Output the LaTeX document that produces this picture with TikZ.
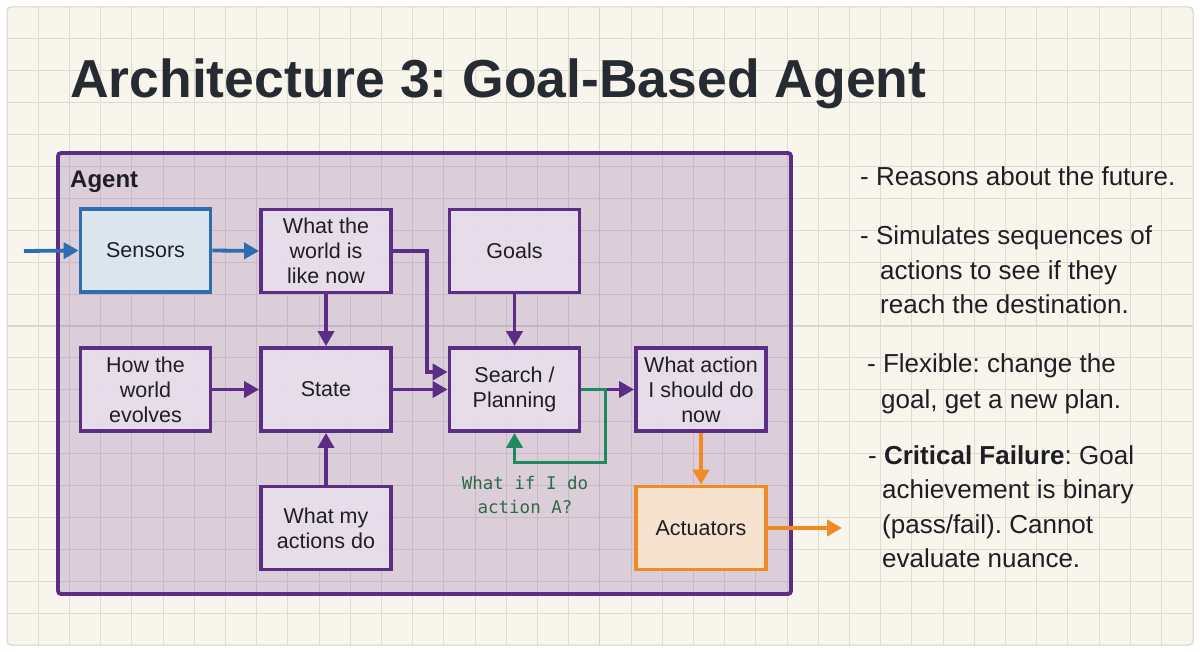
\documentclass[tikz,border=0pt]{standalone}
\usepackage{fontspec}
\setmainfont{Liberation Sans}
\newfontfamily\codefont{DejaVu Sans Mono}
\usetikzlibrary{arrows.meta}
\frenchspacing

\definecolor{bgc}{HTML}{F7F5EC}
\definecolor{gridc}{HTML}{DEDBD3}
\definecolor{gridd}{HTML}{D6D3CB}
\definecolor{framec}{HTML}{D6D3CB}
\definecolor{pur}{HTML}{5B2D84}
\definecolor{agentc}{HTML}{6E3591}
\definecolor{boxfill}{HTML}{E8DFEE}
\definecolor{blu}{HTML}{2E6DAF}
\definecolor{blufill}{HTML}{DDEBF4}
\definecolor{org}{HTML}{F08A24}
\definecolor{orgfill}{HTML}{FDE6CE}
\definecolor{grn}{HTML}{1F8A5F}
\definecolor{grntxt}{HTML}{2D6A48}
\definecolor{txt}{HTML}{1E1E24}
\definecolor{titlec}{HTML}{262B31}

\tikzset{
  box/.style={draw=pur, line width=3.8pt, fill=boxfill, fill opacity=0.85, text opacity=1,
    minimum width=130pt, minimum height=83pt, align=center, text=txt,
    font=\fontsize{21.5}{25}\selectfont, inner sep=2pt},
  sbox/.style={box, draw=blu, fill=blufill},
  abox/.style={box, draw=org, fill=orgfill},
  conn/.style={line width=3.8pt, -{Triangle[length=15pt,width=16pt]}},
  parr/.style={conn, draw=pur},
  barr/.style={conn, draw=blu},
  oarr/.style={conn, draw=org},
  garr/.style={conn, draw=grn},
  side/.style={anchor=base west, text=txt, font=\fontsize{26}{30}\selectfont, inner sep=0pt},
}

\begin{document}
\begin{tikzpicture}[x=1pt,y=-1pt]
\useasboundingbox (0,0) rectangle (1200,652);
\fill[white] (0,0) rectangle (1200,652);
\fill[bgc] [rounded corners=4pt] (7,7) rectangle (1193,645);
\begin{scope}
  \clip[rounded corners=4pt] (7,7) rectangle (1193,645);
  \foreach \i in {1,...,37} \draw[gridc, line width=0.9pt] ({7+31.2*\i},7) -- ({7+31.2*\i},645);
  \foreach \j in {1,...,19} \draw[gridc, line width=0.9pt] (7,{7+31.9*\j}) -- (1193,{7+31.9*\j});
  \draw[gridd, line width=1pt] ({7+31.2*19},7) -- ({7+31.2*19},645);
  \draw[gridd, line width=1pt] (7,{7+31.9*10}) -- (1193,{7+31.9*10});
\end{scope}
\draw[framec, line width=1pt, rounded corners=4pt] (7,7) rectangle (1193,645);

% title
\node[anchor=base west, inner sep=0pt, text=titlec, font=\bfseries\fontsize{53.5}{60}\selectfont] (title) at (70,98) {Architecture 3: Goal-Based Agent};

% agent region
\draw[draw=pur, line width=3.8pt, fill=agentc, fill opacity=0.2, rounded corners=3pt] (58,153) rectangle (791,594);
\node[anchor=base west, inner sep=0pt, text=txt, font=\bfseries\fontsize{24}{28}\selectfont] (agent) at (70,188) {Agent};

% boxes
\node[sbox] (sensors) at (145.5,250.5) {Sensors};
\node[box] (world) at (326,251) {What the\\world is\\like now};
\node[box] (goals) at (514.5,251) {Goals};
\node[box] (how) at (145.5,389.5) {How the\\world\\evolves};
\node[box] (state) at (326,389.5) {State};
\node[box] (search) at (514.5,389.5) {Search /\\Planning};
\node[box] (action) at (701,389.5) {What action\\I should do\\now};
\node[box] (myact) at (326,528) {What my\\actions do};
\node[abox] (act) at (701,528) {Actuators};

\coordinate (in) at (24,251);
\coordinate (out) at (842,528);

% connectors
\draw[barr] (in) -- (sensors.west);
\draw[barr] (sensors.east) -- (world.west);
\draw[parr] (world.south) -- (state.north);
\draw[parr] (world.east) -- ++(34,0) |- ([yshift=17.5pt]search.west);
\draw[parr] (state.east) -- (search.west);
\draw[parr] (how.east) -- (state.west);
\draw[parr] (goals.south) -- (search.north);
\draw[parr] (myact.north) -- (state.south);
\draw[parr] (search.east) -- (action.west);
\draw[garr] (search.east) -- ++(24,0) -- ++(0,73) -| (search.south);
\draw[oarr] (action.south) -- (act.north);
\draw[oarr] (act.east) -- (out);

\node[align=center, text=grntxt, font=\codefont\fontsize{17.5}{24}\selectfont] (whatif) at (525,495) {What if I do\\action A?};

% side notes
\node[side] (n1) at (860,186) {- Reasons about the future.};
\node[side] (n2) at (860,245) {- Simulates sequences of};
\node[side] (n2b) at (880,280) {actions to see if they};
\node[side] (n2c) at (880,314) {reach the destination.};
\node[side] (n3) at (867,373) {- Flexible: change the};
\node[side] (n3b) at (881,408) {goal, get a new plan.};
\node[side] (n4) at (868,464) {- \textbf{Critical Failure}: Goal};
\node[side] (n4b) at (882,498) {achievement is binary};
\node[side] (n4c) at (882,533) {(pass/fail). Cannot};
\node[side] (n4d) at (882,567) {evaluate nuance.};
\end{tikzpicture}
\end{document}
